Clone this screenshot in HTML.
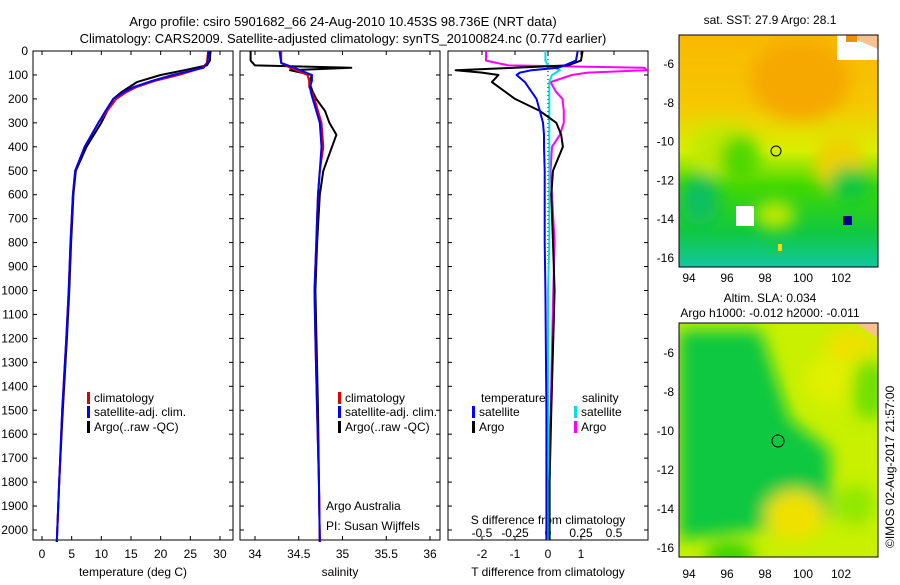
<!DOCTYPE html>
<html><head><meta charset="utf-8"><style>
body{margin:0;background:#fff;width:900px;height:580px;overflow:hidden}
svg text{font-family:"Liberation Sans",sans-serif;font-size:12px;fill:#000}
</style></head><body>
<svg id="chart" width="900" height="580" xmlns="http://www.w3.org/2000/svg">
<defs>
<filter id="blur1" x="-20%" y="-20%" width="140%" height="140%"><feGaussianBlur stdDeviation="8"/></filter>
<clipPath id="clipm1"><rect x="679" y="35" width="199" height="232"/></clipPath>
<clipPath id="clipm2"><rect x="679" y="323" width="199" height="234"/></clipPath>
<clipPath id="clipp3"><rect x="448" y="51" width="200" height="489"/></clipPath>
<linearGradient id="sstg" x1="0" y1="0" x2="0" y2="1">
<stop offset="0" stop-color="#f9b800"/><stop offset="0.3" stop-color="#f5c800"/><stop offset="0.5" stop-color="#d8f000"/><stop offset="0.65" stop-color="#40d800"/><stop offset="0.85" stop-color="#10c840"/><stop offset="1" stop-color="#10c8a0"/>
</linearGradient>
</defs>
<g>
<text x="343" y="26" text-anchor="middle" style="font-size:13px">Argo profile: csiro 5901682_66 24-Aug-2010 10.453S 98.736E (NRT data)</text>
<text x="343" y="43" text-anchor="middle" style="font-size:13px">Climatology: CARS2009. Satellite-adjusted climatology: synTS_20100824.nc (0.77d earlier)</text>
</g>
<g id="axes"></g>
<g id="series"></g>
<g>
<g clip-path="url(#clipm1)">
<rect x="679" y="35" width="199" height="232" fill="url(#sstg)"/>
<g filter="url(#blur1)">
<ellipse cx="800" cy="80" rx="50" ry="40" fill="#f6a800"/>
<ellipse cx="720" cy="150" rx="30" ry="25" fill="#c0e800"/>
<ellipse cx="740" cy="160" rx="20" ry="25" fill="#50d800"/>
<ellipse cx="840" cy="165" rx="25" ry="30" fill="#f0d000"/>
<ellipse cx="775" cy="215" rx="20" ry="14" fill="#c0e800"/>
<ellipse cx="850" cy="185" rx="22" ry="18" fill="#10c840"/>
<ellipse cx="700" cy="200" rx="20" ry="25" fill="#10c060"/>
</g>
<rect x="837" y="35" width="41" height="25" fill="#fff"/>
<path d="M845 35 L878 35 L878 49 Z" fill="#f9c090"/>
<rect x="846" y="35" width="11" height="7" fill="#f09000"/>
<rect x="736" y="206" width="18" height="20" fill="#fff"/>
<rect x="843" y="216" width="9" height="9" fill="#000080"/>
<rect x="778" y="244" width="4" height="7" fill="#f0e000"/>
</g>
<circle cx="776" cy="151" r="5" fill="none" stroke="#000"/>
<rect x="679" y="35" width="199" height="232" fill="none" stroke="#000"/>
<text x="770" y="24" text-anchor="middle">sat. SST: 27.9 Argo: 28.1</text>
</g>
<g>
<g clip-path="url(#clipm2)">
<rect x="679" y="323" width="199" height="234" fill="#c8f000"/>
<g filter="url(#blur1)">
<path d="M679 330 L760 330 L790 420 L830 450 L830 520 L760 530 L679 540 Z" fill="#10c840"/>
<ellipse cx="720" cy="380" rx="30" ry="40" fill="#10c840"/>
<ellipse cx="795" cy="515" rx="30" ry="25" fill="#f0e000"/>
<ellipse cx="830" cy="380" rx="25" ry="25" fill="#e0f000"/>
<ellipse cx="870" cy="390" rx="18" ry="30" fill="#70e000"/>
<ellipse cx="855" cy="505" rx="20" ry="20" fill="#90e800"/>
<ellipse cx="730" cy="555" rx="25" ry="12" fill="#30d000"/>
<ellipse cx="850" cy="345" rx="25" ry="15" fill="#f0e000"/>
</g>
<path d="M855 323 L878 323 L878 338 Z" fill="#f9c090"/>
</g>
<circle cx="778" cy="441" r="6" fill="none" stroke="#000"/>
<rect x="679" y="323" width="199" height="234" fill="none" stroke="#000"/>
<text x="770" y="302" text-anchor="middle">Altim. SLA: 0.034</text>
<text x="770" y="317" text-anchor="middle">Argo h1000: -0.012 h2000: -0.011</text>
</g>
<text transform="translate(894,548) rotate(-90)">©IMOS 02-Aug-2017 21:57:00</text>
</svg>
<script>
// ---- data ----
const climDepth=[0,50,70,100,125,150,175,200,250,300,400,500,600,700,800,1000,1200,1500,1800,2050];
const climTemp=[28,27.8,27,23,19,16,14,12.5,11,9.5,7.2,5.6,5.2,5,4.8,4.5,4.1,3.4,2.9,2.5];
const satTemp=[28.1,27.9,27.2,22,18.5,15.5,13.5,12,10.7,9.5,7.2,5.6,5.2,5,4.8,4.5,4.1,3.4,2.9,2.5];
const argoDepth=[0,40,60,80,100,130,170,200,250,300,400,500,600,700,800,1000,1200,1500,1800,2050];
const argoTemp=[28.4,28.3,27.8,24,20,16,13.5,12,11,10,7.5,5.7,5.3,5.1,4.9,4.6,4.2,3.5,2.9,2.5];
const climSal=[34.3,34.3,34.4,34.6,34.62,34.62,34.65,34.68,34.72,34.76,34.78,34.74,34.72,34.71,34.7,34.68,34.69,34.71,34.73,34.74];
const satSal=[34.28,34.3,34.45,34.65,34.65,34.63,34.64,34.66,34.7,34.74,34.76,34.74,34.72,34.71,34.7,34.68,34.69,34.71,34.73,34.74];
const argoSalDepth=[0,40,60,70,80,100,130,170,200,250,300,350,400,500,600,800,1000,1500,2050];
const argoSal=[33.95,33.95,34.0,35.1,34.4,34.65,34.62,34.66,34.7,34.8,34.85,34.93,34.88,34.78,34.74,34.71,34.69,34.72,34.74];
const tdDepth=[0,40,60,70,80,90,100,130,170,200,250,300,350,400,500,600,800,1000,1500,1800,2050];
const argoTdiff=[1.05,1.0,0.6,-1.0,-2.8,-2.0,-1.5,-1.7,-1.3,-1.0,-0.25,0.25,0.4,0.45,0.15,0.1,0.15,0.2,0.1,0.05,0.05];
const satTdiff=[0.9,0.85,0.5,0.3,-0.5,-0.85,-0.95,-0.7,-0.5,-0.35,-0.25,-0.15,-0.12,-0.12,-0.1,-0.1,-0.1,-0.08,-0.05,-0.05,-0.05];
const argoSdiff=[-0.47,-0.47,-0.3,0.73,0.75,0.3,0.18,0.02,0.06,0.11,0.12,0.12,0.09,0.03,0.02,0.03,0.05,0.04,0.02,0.0,0.0];
const satSdiff=[-0.02,-0.02,0.0,0.05,0.09,0.06,0.03,0.01,0.01,0.01,0.01,0.01,0.01,0.01,0.01,0.01,0.01,0.0,0.0,0.0,0.0];
const depthTicks=[0,100,200,300,400,500,600,700,800,900,1000,1100,1200,1300,1400,1500,1600,1700,1800,1900,2000];
const tempTicks=[0,5,10,15,20,25,30];
const salTicks=[34,34.5,35,35.5,36];
const tdTicks=[-2,-1,0,1];
const sdTickVals=[-0.5,-0.25,0,0.25,0.5];
const lonTicks=[94,96,98,100,102];
const latTicks=[-6,-8,-10,-12,-14,-16];
// ---- scales ----
const NS="http://www.w3.org/2000/svg";
const yD=d=>51+d*0.2395;
const xT=t=>42+t*5.933;
const xS=s=>255+(s-34)*87.5;
const xTd=v=>548+v*33;
const xSd=v=>548+v*132;
const lon=l=>689+(l-94)*19;
const lat1=v=>64+(-6-v)*19.4;
const lat2=v=>353+(-6-v)*19.5;
function mk(tag,attrs,parent){const e=document.createElementNS(NS,tag);for(const k in attrs)e.setAttribute(k,attrs[k]);parent.appendChild(e);return e;}
const axes=document.getElementById('axes'),ser=document.getElementById('series'),svg=document.getElementById('chart');
function txt(x,y,s,anchor,parent){const t=mk('text',{x:x,y:y,'text-anchor':anchor||'middle'},parent);t.textContent=s;return t;}
function line(x1,y1,x2,y2,parent,st){return mk('line',{x1,y1,x2,y2,stroke:st||'#000'},parent);}
// panels
const panels=[[33,'temperature-panel'],[240,'salinity-panel'],[448,'difference-panel']];
panels.forEach(([x,n])=>{const r=mk('rect',{x:x,y:51,width:200,height:489,fill:'none',stroke:'#000'},axes);

});
// depth ticks
depthTicks.forEach(d=>{const y=yD(d);const t=txt(28,y+4,String(d),'end',axes);


[33,240,448].forEach(x=>{line(x,y,x+4,y,axes);line(x+196,y,x+200,y,axes);});});
tempTicks.forEach(v=>{const x=xT(v);line(x,540,x,536,axes);line(x,51,x,55,axes);const t=txt(x,558,String(v),'middle',axes);

});
salTicks.forEach(v=>{const x=xS(v);line(x,540,x,536,axes);line(x,51,x,55,axes);const t=txt(x,558,String(v),'middle',axes);

});
tdTicks.forEach(v=>{const x=xTd(v);line(x,540,x,536,axes);const t=txt(x,558,String(v),'middle',axes);

});
sdTickVals.forEach(v=>{const x=xSd(v);line(x,51,x,55,axes);const t=txt(x,537,String(v),'middle',axes);

});
let t;
t=txt(133,576,'temperature (deg C)','middle',axes);
t=txt(340,576,'salinity','middle',axes);
t=txt(548,576,'T difference from climatology','middle',axes);
t=txt(548,524,'S difference from climatology','middle',axes);
t=txt(326,510,'Argo Australia','start',axes);
t=txt(326,530,'PI: Susan Wijffels','start',axes);
// zero dotted line in diff panel
line(xTd(0),51,xTd(0),540,axes,'#000').setAttribute('stroke-dasharray','1,3');
// maps axes
lonTicks.forEach(v=>{const x=lon(v);line(x,267,x,263,axes);line(x,35,x,39,axes);line(x,557,x,553,axes);line(x,323,x,327,axes);
txt(x,282,String(v),'middle',axes);txt(x,578,String(v),'middle',axes);});
latTicks.forEach(v=>{let y=lat1(v);line(679,y,683,y,axes);line(878,y,874,y,axes);txt(674,y+4,String(v),'end',axes);
y=lat2(v);line(679,y,683,y,axes);line(878,y,874,y,axes);txt(674,y+4,String(v),'end',axes);});
// series
function poly(xs,ds,fx,color,name,w,parent){const pts=xs.map((v,i)=>fx(v).toFixed(1)+','+yD(ds[i]).toFixed(1)).join(' ');
const p=mk('polyline',{points:pts,fill:'none',stroke:color,'stroke-width':w||2,'stroke-linejoin':'round'},parent||ser);

}
poly(argoTemp,argoDepth,xT,'#000','argo-temperature-line');
poly(climTemp,climDepth,xT,'#e00000','clim-temperature-line');
poly(satTemp,climDepth,xT,'#0000ff','sat-temperature-line');
poly(argoSal,argoSalDepth,xS,'#000','argo-salinity-line');
poly(climSal,climDepth,xS,'#e00000','clim-salinity-line');
poly(satSal,climDepth,xS,'#0000ff','sat-salinity-line');
const g3=mk('g',{'clip-path':'url(#clipp3)'},ser);
poly(argoSdiff,tdDepth,xSd,'#ff00ff','argo-sdiff-line',2,g3);
poly(satSdiff,tdDepth,xSd,'#00e0e0','sat-sdiff-line',2,g3);
poly(argoTdiff,tdDepth,xTd,'#000','argo-tdiff-line',2,g3);
poly(satTdiff,tdDepth,xTd,'#0000ff','sat-tdiff-line',2,g3);
// legends
function leg(x,y,color,label,name){const g=mk('g',{},ser);


mk('rect',{x:x,y:y-10,width:3,height:12,fill:color},g);txt(x+7,y,label,'start',g);}
[[87,'temp'],[338,'sal']].forEach(([x,k])=>{
leg(x,402,'#e00000','climatology',k+'-legend-climatology');
leg(x,416,'#0000ff','satellite-adj. clim.',k+'-legend-satellite');
leg(x,431,'#000','Argo(..raw -QC)',k+'-legend-argo');});
t=txt(481,402,'temperature','start',ser);
t=txt(582,402,'salinity','start',ser);
leg(472,416,'#0000ff','satellite','diff-legend-t-satellite');
leg(472,431,'#000','Argo','diff-legend-t-argo');
leg(574,416,'#00e0e0','satellite','diff-legend-s-satellite');
leg(574,431,'#ff00ff','Argo','diff-legend-s-argo');
</script>
</body></html>
